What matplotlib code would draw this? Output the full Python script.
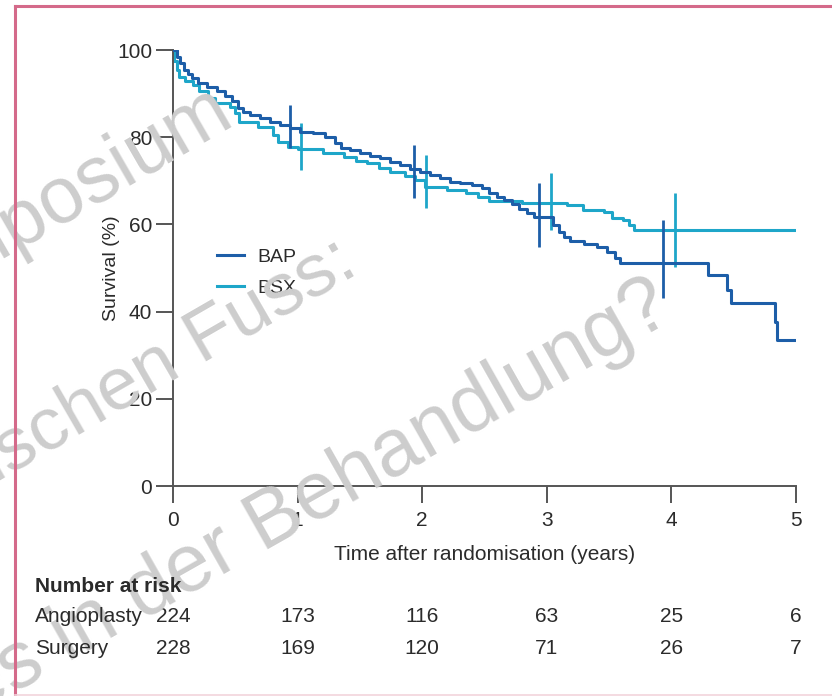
import numpy as np
import pandas as pd
import matplotlib
matplotlib.use('Agg')
import matplotlib.pyplot as plt
from matplotlib.lines import Line2D

plt.rcParams['font.family'] = ['Liberation Sans', 'DejaVu Sans']

# Kaplan-Meier steps (time in years, survival in %)
bap_t = [0, 0.03, 0.06, 0.09, 0.12, 0.15, 0.2, 0.27, 0.35, 0.42, 0.47, 0.52, 0.56, 0.62, 0.7,
         0.78, 0.86, 0.94, 1.02, 1.12, 1.22, 1.3, 1.35, 1.42, 1.5, 1.58, 1.66, 1.74, 1.82, 1.9,
         1.98, 2.06, 2.14, 2.22, 2.3, 2.4, 2.48, 2.54, 2.6, 2.66, 2.72, 2.78, 2.84, 2.9, 3.05,
         3.1, 3.14, 3.19, 3.3, 3.4, 3.48, 3.55, 3.59, 4.29, 4.45, 4.48, 4.83, 4.85, 5.0]
bap_s = [100, 98.5, 97, 95.5, 94.5, 93.5, 92.5, 91.5, 90.5, 89.5, 88.2, 86.7, 85.8, 85.2, 84.4,
         83.6, 82.8, 82.0, 81.2, 81.0, 80.0, 78.6, 77.6, 77.0, 76.4, 75.8, 75.2, 74.4, 73.6, 72.8,
         72.0, 71.4, 70.6, 69.7, 69.5, 69.0, 68.3, 67.2, 66.2, 65.6, 64.6, 63.6, 62.6, 61.6, 59.9,
         58.3, 57.2, 56.2, 55.6, 54.8, 53.7, 52.4, 51.2, 48.4, 45.0, 42.0, 37.6, 33.5, 33.5]

bsx_t = [0, 0.01, 0.03, 0.05, 0.1, 0.16, 0.21, 0.28, 0.34, 0.46, 0.5, 0.53, 0.68, 0.8, 0.84,
         0.92, 1.0, 1.2, 1.37, 1.47, 1.56, 1.65, 1.74, 1.86, 1.94, 2.02, 2.2, 2.35, 2.45, 2.54,
         2.8, 3.16, 3.29, 3.46, 3.52, 3.61, 3.66, 3.7, 5.0]
bsx_s = [100, 97.5, 95.5, 93.8, 93.0, 92.0, 90.5, 89.0, 87.8, 87.0, 85.6, 83.5, 82.3, 80.6, 79.0,
         77.8, 77.3, 76.4, 75.5, 74.6, 74.0, 73.0, 72.0, 71.2, 70.2, 68.6, 67.9, 67.2, 66.3, 65.3,
         65.0, 64.4, 63.3, 62.8, 61.5, 61.0, 59.8, 58.7, 58.7]

# yearly confidence bars
ci_years = [1, 2, 3, 4]
bap_lo = [77.5, 66.1, 54.8, 43.1]
bap_hi = [87.4, 78.2, 69.5, 61.0]
bsx_lo = [72.5, 63.8, 58.7, 50.2]
bsx_hi = [83.3, 75.9, 71.8, 67.2]

# number at risk
risk_years = [0, 1, 2, 3, 4, 5]
angioplasty = [224, 173, 116, 63, 25, 6]
surgery = [228, 169, 120, 71, 26, 7]

bap_col = '#1d5ea8'
bsx_col = '#1ea6c9'
txt_col = '#2b2b2b'

fig = plt.figure(figsize=(8.32, 6.96), dpi=100)
ax = fig.add_axes([173/832, 1-486/696, 623/832, 436/696])

# watermark behind everything
wm = dict(color='#cdcdcd', rotation_mode='anchor',
          ha='right', va='baseline', zorder=0, family='Liberation Sans')
fig.text(236/832, 1-122/696, 'Symposium', fontsize=57, rotation=30, **wm)
fig.text(360/832, 1-272/696, 'diabetischen Fuss:', fontsize=54, rotation=30, **wm)
fig.text(676/832, 1-318/696, 'Neues in der Behandlung?', fontsize=58, rotation=29.5, **wm)

ax.step(bap_t, bap_s, where='post', color=bap_col, lw=2.2, label='BAP', zorder=3)
ax.step(bsx_t, bsx_s, where='post', color=bsx_col, lw=2.2, label='BSX', zorder=2)
ax.vlines(np.array(ci_years) - 0.065, bap_lo, bap_hi, color=bap_col, lw=2.0, zorder=3)
ax.vlines(np.array(ci_years) + 0.03, bsx_lo, bsx_hi, color=bsx_col, lw=2.0, zorder=2)

ax.set_xlim(0, 5)
ax.set_ylim(0, 100)
ax.set_xticks(range(0, 6))
ax.set_yticks(range(0, 101, 20))
ax.patch.set_alpha(0)
for s in ['top', 'right']:
    ax.spines[s].set_visible(False)
for s in ['left', 'bottom']:
    ax.spines[s].set_color('#555555')
    ax.spines[s].set_linewidth(1.4)
ax.tick_params(length=12, width=1.4, color='#555555', labelsize=15, labelcolor=txt_col, pad=3)
ax.tick_params(axis='x', pad=6)
ax.set_xlabel('Time after randomisation (years)', fontsize=15, color=txt_col, labelpad=11)
ax.set_ylabel('Survival (%)', fontsize=14, color=txt_col, labelpad=-2)

ax.legend(loc='upper left', bbox_to_anchor=(0.07, 0.546), frameon=False, fontsize=14,
          borderpad=0, borderaxespad=0, handlelength=1.4, handletextpad=0.7, labelspacing=0.7,
          labelcolor=txt_col)

# number at risk table
trans = ax.get_xaxis_transform()
fig.text(35/832, 1-586/696, 'Number at risk', fontsize=15, weight='bold', color=txt_col, va='center')
fig.text(35/832, 1-617/696, 'Angioplasty', fontsize=15, color=txt_col, va='center')
fig.text(35/832, 1-648/696, 'Surgery', fontsize=15, color=txt_col, va='center')
for yr, a, s in zip(risk_years, angioplasty, surgery):
    ax.text(yr, -(617-486)/436, str(a), transform=trans, ha='center', va='center',
            fontsize=15, color=txt_col, clip_on=False)
    ax.text(yr, -(648-486)/436, str(s), transform=trans, ha='center', va='center',
            fontsize=15, color=txt_col, clip_on=False)

# pink frame
frame = dict(color='#d46a8a', lw=2.2, transform=fig.transFigure)
fig.add_artist(Line2D([15/832, 1], [1-6/696, 1-6/696], **frame))
fig.add_artist(Line2D([15/832, 15/832], [0, 1-6/696], **frame))
fig.add_artist(Line2D([15/832, 1], [1/696, 1/696], color='#f2d4dc', lw=1.2, transform=fig.transFigure))

fig.savefig('out.png', dpi=100)
